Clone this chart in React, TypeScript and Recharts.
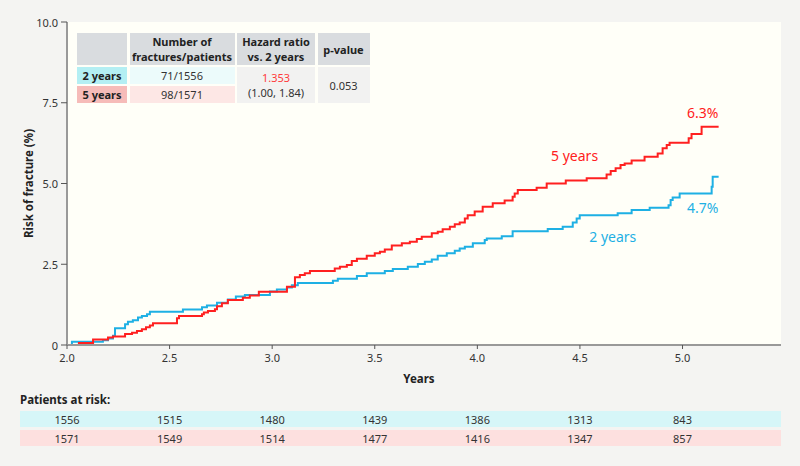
import React from "react";
import { LineChart, Line, XAxis, YAxis, ReferenceArea, ReferenceDot } from "recharts";

const FONT = "'Noto Sans', 'Open Sans', sans-serif";
const RED = "#ff2020";
const CYAN = "#1eb0e4";

const xTicks = [2.0, 2.5, 3.0, 3.5, 4.0, 4.5, 5.0];
const yTicks = [0, 2.5, 5.0, 7.5, 10.0];
const riskTwoYears = [1556, 1515, 1480, 1439, 1386, 1313, 843];
const riskFiveYears = [1571, 1549, 1514, 1477, 1416, 1347, 857];

const fiveYearTimes = [2.0, 2.058, 2.127, 2.2, 2.224, 2.283, 2.317, 2.341, 2.365, 2.385, 2.404, 2.419, 2.536, 2.546, 2.658, 2.667, 2.687, 2.721, 2.731, 2.755, 2.784, 2.857, 2.891, 2.935, 3.072, 3.111, 3.135, 3.159, 3.184, 3.305, 3.33, 3.364, 3.388, 3.413, 3.461, 3.5, 3.525, 3.549, 3.583, 3.632, 3.671, 3.705, 3.729, 3.778, 3.807, 3.831, 3.866, 3.89, 3.914, 3.939, 3.953, 3.987, 4.026, 4.075, 4.133, 4.172, 4.182, 4.197, 4.289, 4.338, 4.431, 4.533, 4.63, 4.65, 4.674, 4.698, 4.718, 4.752, 4.815, 4.879, 4.903, 4.923, 4.937, 5.03, 5.044, 5.093, 5.176];
const fiveYearRisk = [0, 0.06, 0.17, 0.23, 0.26, 0.34, 0.38, 0.43, 0.49, 0.55, 0.6, 0.67, 0.83, 0.9, 0.95, 1.01, 1.05, 1.11, 1.2, 1.29, 1.39, 1.46, 1.53, 1.65, 1.8, 2.1, 2.17, 2.22, 2.29, 2.37, 2.42, 2.48, 2.6, 2.67, 2.76, 2.84, 2.89, 2.96, 3.08, 3.15, 3.2, 3.28, 3.35, 3.46, 3.51, 3.58, 3.66, 3.74, 3.79, 3.92, 4.02, 4.13, 4.28, 4.39, 4.47, 4.59, 4.69, 4.8, 4.87, 5.0, 5.09, 5.16, 5.28, 5.39, 5.47, 5.57, 5.62, 5.71, 5.83, 5.93, 6.09, 6.19, 6.26, 6.4, 6.53, 6.76, 6.76];

const twoYearTimes = [2.0, 2.024, 2.175, 2.2, 2.224, 2.234, 2.283, 2.297, 2.321, 2.346, 2.365, 2.39, 2.404, 2.565, 2.658, 2.682, 2.731, 2.784, 2.823, 2.867, 2.989, 3.023, 3.072, 3.096, 3.125, 3.296, 3.32, 3.413, 3.461, 3.549, 3.588, 3.661, 3.71, 3.744, 3.778, 3.807, 3.851, 3.89, 3.914, 3.939, 3.978, 4.036, 4.046, 4.119, 4.172, 4.343, 4.416, 4.465, 4.484, 4.499, 4.684, 4.752, 4.84, 4.932, 4.942, 4.952, 4.986, 5.142, 5.147, 5.176];
const twoYearRisk = [0, 0.1, 0.15, 0.2, 0.29, 0.52, 0.64, 0.72, 0.77, 0.85, 0.9, 0.95, 1.03, 1.1, 1.17, 1.22, 1.31, 1.41, 1.5, 1.55, 1.66, 1.72, 1.78, 1.85, 1.92, 1.99, 2.05, 2.14, 2.22, 2.29, 2.35, 2.42, 2.51, 2.58, 2.65, 2.76, 2.84, 2.92, 2.99, 3.04, 3.15, 3.25, 3.3, 3.37, 3.52, 3.59, 3.66, 3.79, 3.92, 4.02, 4.08, 4.18, 4.25, 4.33, 4.49, 4.57, 4.69, 4.9, 5.21, 5.21];

const fiveData = fiveYearTimes.map((t, i) => ({ t, v: fiveYearRisk[i] }));
const twoData = twoYearTimes.map((t, i) => ({ t, v: twoYearRisk[i] }));

const XTick = (props: any) => {
  const { x, y, payload, index } = props;
  return (
    <g>
      <text x={x} y={y + 4} textAnchor="middle" dominantBaseline="central" fontSize={11} fill="#333" fontFamily={FONT}>
        {Number(payload.value).toFixed(1)}
      </text>
      <text x={x} y={y + 66} textAnchor="middle" dominantBaseline="central" fontSize={11} fill="#333" fontFamily={FONT}>
        {riskTwoYears[index]}
      </text>
      <text x={x} y={y + 85} textAnchor="middle" dominantBaseline="central" fontSize={11} fill="#333" fontFamily={FONT}>
        {riskFiveYears[index]}
      </text>
    </g>
  );
};

const YTick = (props: any) => {
  const { x, y, payload } = props;
  const v = Number(payload.value);
  return (
    <text x={x} y={y} textAnchor="end" dominantBaseline="central" fontSize={11} fill="#333" fontFamily={FONT}>
      {v === 0 ? "0" : v.toFixed(1)}
    </text>
  );
};

const cell = (bg: string, extra: any = {}) => ({
  background: bg,
  display: "flex",
  alignItems: "center",
  justifyContent: "center",
  textAlign: "center" as const,
  ...extra,
});

export default function App() {
  return (
    <div style={{ position: "absolute", left: 0, top: 0, width: 800, height: 466, background: "#f4f4f2", fontFamily: FONT, overflow: "hidden" }}>
      <div style={{ position: "absolute", left: 20, top: 411, width: 761, height: 16, background: "#d6f6f8" }} />
      <div style={{ position: "absolute", left: 20, top: 430, width: 761, height: 16, background: "#fde0df" }} />
      <div style={{ position: "absolute", left: 20, top: 392, fontSize: 11.5, fontWeight: 700, color: "#222" }}>Patients at risk:</div>
      <div style={{ position: "absolute", left: 0, top: 0 }}>
        <LineChart width={800} height={466} margin={{ top: 22, right: 19, bottom: 91, left: 27 }}>
          <XAxis
            dataKey="t"
            type="number"
            domain={[2, 5.48]}
            ticks={xTicks}
            allowDataOverflow
            height={30}
            tick={<XTick />}
            tickSize={4}
            tickMargin={4}
            axisLine={{ stroke: "#999", strokeWidth: 2 }}
            tickLine={{ stroke: "#555" }}
            interval={0}
            label={{
              content: (p: any) => (
                <text x={p.viewBox.x + p.viewBox.width / 2 - 5} y={p.viewBox.y + 33} textAnchor="middle" dominantBaseline="central" fontSize={11.5} fontWeight={700} fill="#222" fontFamily={FONT}>
                  Years
                </text>
              ),
            }}
          />
          <YAxis
            type="number"
            domain={[0, 10]}
            ticks={yTicks}
            width={40}
            tick={<YTick />}
            tickSize={6}
            tickMargin={3}
            interval={0}
            axisLine={{ stroke: "#999", strokeWidth: 2 }}
            tickLine={{ stroke: "#555" }}
            label={{
              content: (p: any) => (
                <text x={28} y={p.viewBox.y + p.viewBox.height / 2} transform={`rotate(-90 28 ${p.viewBox.y + p.viewBox.height / 2})`} textAnchor="middle" dominantBaseline="central" fontSize={11.5} fontWeight={700} fill="#222" fontFamily={FONT}>
                  Risk of fracture (%)
                </text>
              ),
            }}
          />
          <ReferenceArea x1={2} x2={5.48} y1={0} y2={10} fill="#fffff8" fillOpacity={1} stroke="none" ifOverflow="visible" />
          <Line data={twoData} dataKey="v" type="stepAfter" stroke={CYAN} strokeWidth={2} dot={false} isAnimationActive={false} />
          <Line data={fiveData} dataKey="v" type="stepAfter" stroke={RED} strokeWidth={2} dot={false} isAnimationActive={false} />
          <ReferenceDot x={5.098} y={7.18} r={0} stroke="none" fill="none" label={{ value: "6.3%", position: "center", fill: RED, fontSize: 14, fontFamily: FONT }} />
          <ReferenceDot x={4.474} y={5.85} r={0} stroke="none" fill="none" label={{ value: "5 years", position: "center", fill: RED, fontSize: 14, fontFamily: FONT }} />
          <ReferenceDot x={5.098} y={4.24} r={0} stroke="none" fill="none" label={{ value: "4.7%", position: "center", fill: CYAN, fontSize: 14, fontFamily: FONT }} />
          <ReferenceDot x={4.66} y={3.34} r={0} stroke="none" fill="none" label={{ value: "2 years", position: "center", fill: CYAN, fontSize: 14, fontFamily: FONT }} />
        </LineChart>
      </div>
      <div
        style={{
          position: "absolute",
          left: 77,
          top: 33,
          display: "grid",
          gridTemplateColumns: "50px 105px 78px 52px",
          gridTemplateRows: "32px 17px 17px",
          columnGap: 2.5,
          rowGap: 2,
          fontSize: 11,
          color: "#222",
          lineHeight: "15px",
        }}
      >
        <div style={cell("#d9dcdf")} />
        <div style={cell("#d9dcdf", { fontWeight: 700 })}>Number of<br />fractures/patients</div>
        <div style={cell("#d9dcdf", { fontWeight: 700 })}>Hazard ratio<br />vs. 2 years</div>
        <div style={cell("#d9dcdf", { fontWeight: 700 })}>p-value</div>
        <div style={cell("#b4eff3", { fontWeight: 700 })}>2 years</div>
        <div style={cell("#ecfbfb", { color: "#333" })}>71/1556</div>
        <div style={cell("#f2f2f1", { gridRow: "2 / 4", gridColumn: "3", flexDirection: "column", color: "#333" })}>
          <span style={{ color: "#ff3b3b" }}>1.353</span>
          <span>(1.00, 1.84)</span>
        </div>
        <div style={cell("#f2f2f1", { gridRow: "2 / 4", gridColumn: "4", color: "#333" })}>0.053</div>
        <div style={cell("#f6bcb9", { fontWeight: 700, gridRow: "3", gridColumn: "1" })}>5 years</div>
        <div style={cell("#fde7e5", { gridRow: "3", gridColumn: "2", color: "#333" })}>98/1571</div>
      </div>
    </div>
  );
}
